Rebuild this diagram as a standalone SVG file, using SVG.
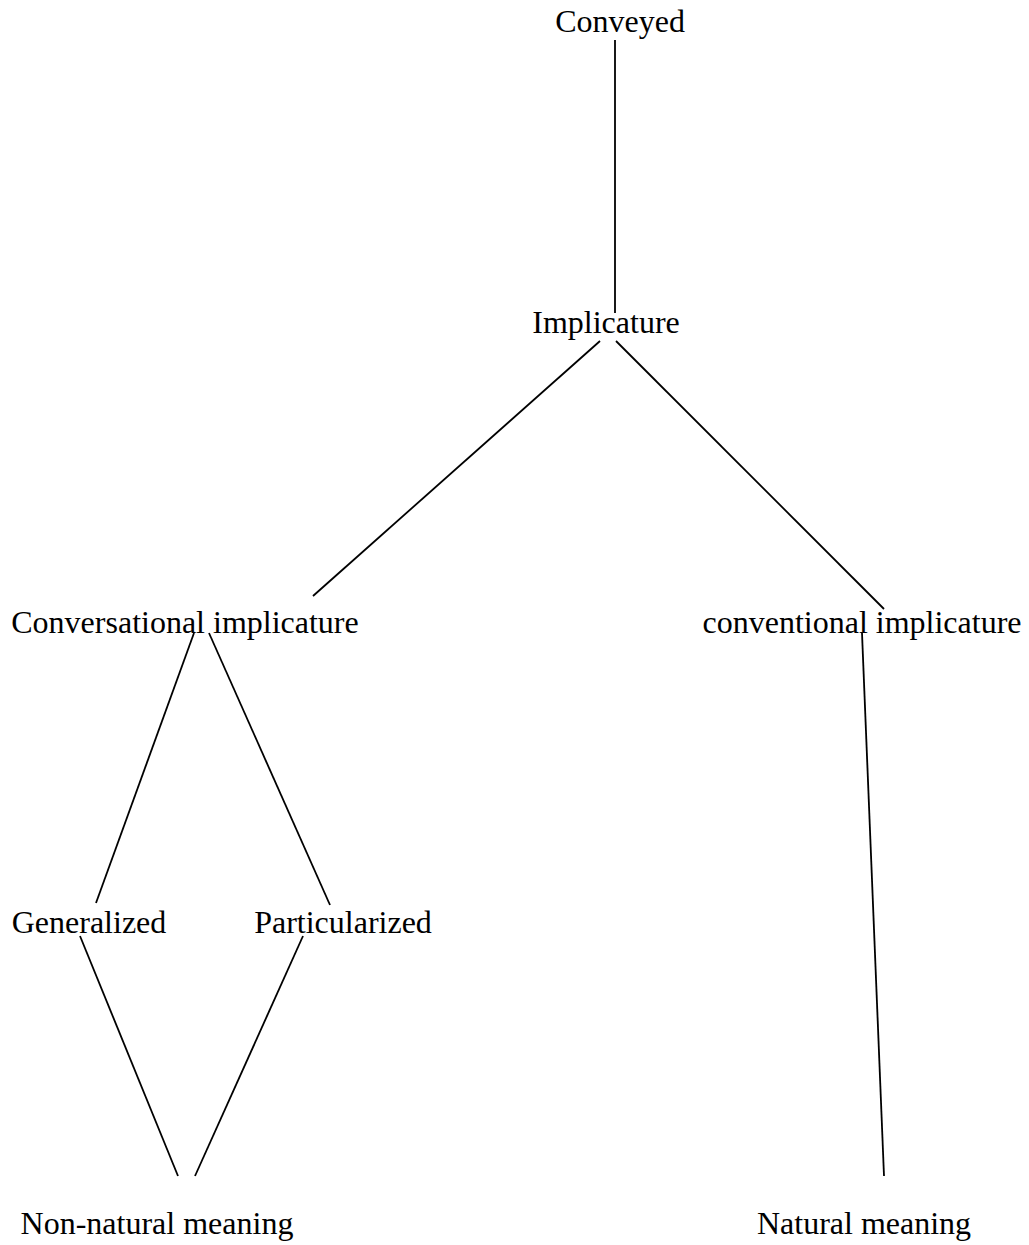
<svg xmlns="http://www.w3.org/2000/svg" width="1029" height="1245" viewBox="0 0 1029 1245">
<style>
.lbl{font-family:"Liberation Serif","Times New Roman",serif;font-size:32px;fill:#000;text-anchor:middle}
.edge{stroke:#000;stroke-width:1.8;fill:none}
</style>
<rect width="1029" height="1245" fill="#fff"/>
<g id="connectors">
<line class="edge" x1="615" y1="40" x2="615" y2="313"/>
<line class="edge" x1="600" y1="341" x2="313" y2="596"/>
<line class="edge" x1="616" y1="341" x2="884" y2="609"/>
<line class="edge" x1="194" y1="633" x2="96" y2="903"/>
<line class="edge" x1="209" y1="633" x2="330" y2="905"/>
<line class="edge" x1="862" y1="633" x2="884" y2="1176"/>
<line class="edge" x1="80" y1="936" x2="178" y2="1176"/>
<line class="edge" x1="303" y1="936" x2="195" y2="1176"/>
</g>
<g id="conveyed"><text class="lbl" x="620" y="32">Conveyed</text></g>
<g id="implicature"><text class="lbl" x="606" y="333">Implicature</text></g>
<g id="conversational"><text class="lbl" x="185" y="633">Conversational implicature</text></g>
<g id="conventional"><text class="lbl" x="862" y="633">conventional implicature</text></g>
<g id="generalized"><text class="lbl" x="89" y="933">Generalized</text></g>
<g id="particularized"><text class="lbl" x="343" y="933">Particularized</text></g>
<g id="nonnatural"><text class="lbl" x="157" y="1234">Non-natural meaning</text></g>
<g id="natural"><text class="lbl" x="864" y="1234">Natural meaning</text></g>
</svg>
